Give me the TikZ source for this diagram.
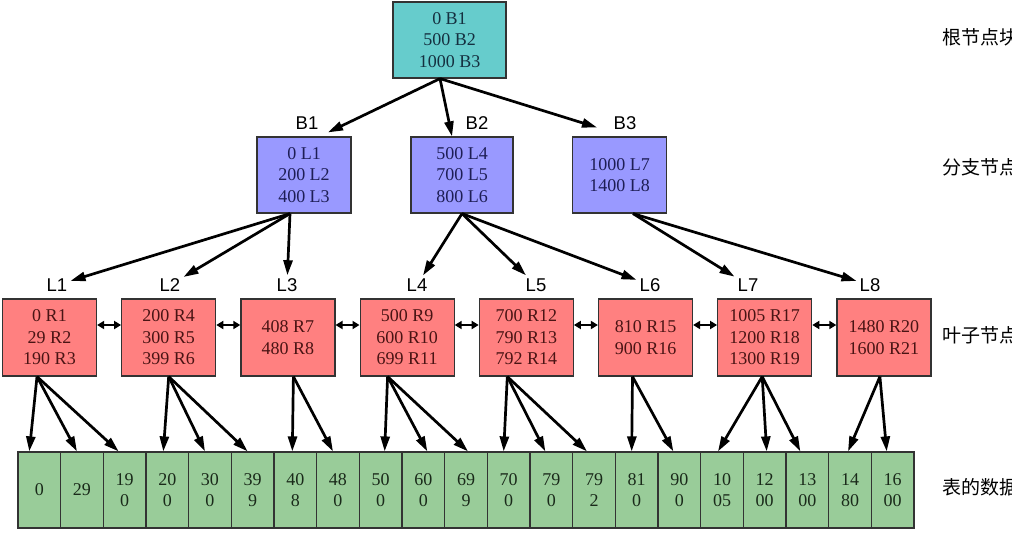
\documentclass[tikz,border=0pt]{standalone}
\usepackage{fontspec}
\setmainfont{Liberation Serif}
\newfontfamily\labfont{Liberation Sans}
\newfontfamily\cjk{Noto Sans CJK SC}
\usetikzlibrary{arrows.meta}
\definecolor{rootFill}{HTML}{66CCCC}
\definecolor{branchFill}{HTML}{9999FF}
\definecolor{leafFill}{HTML}{FF8080}
\definecolor{cellFill}{HTML}{99CC99}
\definecolor{boxLine}{HTML}{333333}
\definecolor{rootText}{HTML}{153040}
\definecolor{branchText}{HTML}{1E1E55}
\definecolor{leafText}{HTML}{4A1414}
\definecolor{cellText}{HTML}{1A2A1A}
\newcommand{\nodeFont}{\fontsize{18}{21.5}\selectfont}
\tikzstyle{rootBox} = [rectangle, draw=boxLine, line width=1.2pt, fill=rootFill, text=rootText, align=center, minimum width=113pt, minimum height=76pt, font=\nodeFont]
\tikzstyle{branchBox} = [rectangle, draw=boxLine, line width=1.2pt, fill=branchFill, text=branchText, align=center, minimum width=94pt, minimum height=76pt, font=\nodeFont]
\tikzstyle{leafBox} = [rectangle, draw=boxLine, line width=1.2pt, fill=leafFill, text=leafText, align=center, minimum width=94pt, minimum height=77pt, font=\nodeFont, node distance=119.2pt]
\tikzstyle{cellBox} = [rectangle, draw=boxLine, line width=1.2pt, fill=cellFill, text=cellText, align=center, minimum width=42.67pt, minimum height=76pt, font=\nodeFont, node distance=42.67pt]
\tikzstyle{tag} = [font=\labfont\fontsize{18.5}{18.5}\selectfont, inner sep=3pt]
\tikzstyle{note} = [anchor=west, font=\cjk\fontsize{19}{19}\selectfont, inner sep=0pt]
\tikzstyle{arrowLine} = [-{Triangle[length=15pt,width=9pt]}, line width=2.7pt]
\tikzstyle{linkLine} = [{Triangle[length=7pt,width=8pt]}-{Triangle[length=7pt,width=8pt]}, line width=2.7pt]

\begin{document}
\begin{tikzpicture}[x=1pt,y=-1pt]
		\useasboundingbox [fill=white] (0,0) rectangle (1012,557);
		% root and branches
		\node [rootBox](root) at (449.5,40){0 B1\\500 B2\\1000 B3};
		\node [branchBox](b1) at (304,175){0 L1\\200 L2\\400 L3};
		\node [branchBox,minimum width=102pt](b2) at (462,175){500 L4\\700 L5\\800 L6};
		\node [branchBox](b3) at (619.5,175){1000 L7\\1400 L8};
		\node [tag](lbB1) at (307,123){B1};
		\node [tag](lbB2) at (477,123){B2};
		\node [tag](lbB3) at (625,123){B3};
		% leaves
		\node [leafBox](l1) at (49.5,337.5){0 R1\\29 R2\\190 R3};
		\node [leafBox,right of=l1](l2){200 R4\\300 R5\\399 R6};
		\node [leafBox,right of=l2](l3){408 R7\\480 R8};
		\node [leafBox,right of=l3](l4){500 R9\\600 R10\\699 R11};
		\node [leafBox,right of=l4](l5){700 R12\\790 R13\\792 R14};
		\node [leafBox,right of=l5](l6){810 R15\\900 R16};
		\node [leafBox,right of=l6](l7){1005 R17\\1200 R18\\1300 R19};
		\node [leafBox,right of=l7](l8){1480 R20\\1600 R21};
		\node [tag](lbL1) at (57,285){L1};
		\node [tag](lbL2) at (170,285){L2};
		\node [tag](lbL3) at (287,285){L3};
		\node [tag](lbL4) at (417,285){L4};
		\node [tag](lbL5) at (536,285){L5};
		\node [tag](lbL6) at (650,285){L6};
		\node [tag](lbL7) at (748,285){L7};
		\node [tag](lbL8) at (870,285){L8};
		% table rows
		\node [cellBox](c1) at (39.3,490){0};
		\node [cellBox,right of=c1](c2){29};
		\node [cellBox,right of=c2](c3){19\\0};
		\node [cellBox,right of=c3](c4){20\\0};
		\node [cellBox,right of=c4](c5){30\\0};
		\node [cellBox,right of=c5](c6){39\\9};
		\node [cellBox,right of=c6](c7){40\\8};
		\node [cellBox,right of=c7](c8){48\\0};
		\node [cellBox,right of=c8](c9){50\\0};
		\node [cellBox,right of=c9](c10){60\\0};
		\node [cellBox,right of=c10](c11){69\\9};
		\node [cellBox,right of=c11](c12){70\\0};
		\node [cellBox,right of=c12](c13){79\\0};
		\node [cellBox,right of=c13](c14){79\\2};
		\node [cellBox,right of=c14](c15){81\\0};
		\node [cellBox,right of=c15](c16){90\\0};
		\node [cellBox,right of=c16](c17){10\\05};
		\node [cellBox,right of=c17](c18){12\\00};
		\node [cellBox,right of=c18](c19){13\\00};
		\node [cellBox,right of=c19](c20){14\\80};
		\node [cellBox,right of=c20](c21){16\\00};
		% side notes
		\node [note](n1) at (942,37){根节点块};
		\node [note](n2) at (942,167){分支节点};
		\node [note](n3) at (942,335){叶子节点};
		\node [note](n4) at (942,487){表的数据};
		% arrows
		\draw [arrowLine] ([xshift=-9.5pt]root.south) -- ([xshift=24pt,yshift=4pt]b1.north);
		\draw [arrowLine] ([xshift=-9.5pt]root.south) -- ([xshift=-10pt]b2.north);
		\draw [arrowLine] ([xshift=-9.5pt]root.south) -- ([xshift=-22.5pt,yshift=9pt]b3.north);
		\draw [arrowLine] ([xshift=-14pt]b1.south) -- (lbL1);
		\draw [arrowLine] ([xshift=-14pt]b1.south) -- (lbL2);
		\draw [arrowLine] ([xshift=-14pt]b1.south) -- (lbL3);
		\draw [arrowLine] (b2.south) -- (lbL4);
		\draw [arrowLine] (b2.south) -- (lbL5);
		\draw [arrowLine] (b2.south) -- (lbL6);
		\draw [arrowLine] ([xshift=13.5pt]b3.south) -- (lbL7);
		\draw [arrowLine] ([xshift=13.5pt]b3.south) -- (lbL8);
		\draw [linkLine] ([yshift=12.5pt]l1.east) -- ([yshift=12.5pt]l2.west);
		\draw [linkLine] ([yshift=12.5pt]l2.east) -- ([yshift=12.5pt]l3.west);
		\draw [linkLine] ([yshift=12.5pt]l3.east) -- ([yshift=12.5pt]l4.west);
		\draw [linkLine] ([yshift=12.5pt]l4.east) -- ([yshift=12.5pt]l5.west);
		\draw [linkLine] ([yshift=12.5pt]l5.east) -- ([yshift=12.5pt]l6.west);
		\draw [linkLine] ([yshift=12.5pt]l6.east) -- ([yshift=12.5pt]l7.west);
		\draw [linkLine] ([yshift=12.5pt]l7.east) -- ([yshift=12.5pt]l8.west);
		\draw [arrowLine] ([xshift=-12.5pt]l1.south) -- ([xshift=-10pt]c1.north);
		\draw [arrowLine] ([xshift=-12.5pt]l1.south) -- ([xshift=-5pt]c2.north);
		\draw [arrowLine] ([xshift=-12.5pt]l1.south) -- ([xshift=-6pt]c3.north);
		\draw [arrowLine] (l2.south) -- ([xshift=-4pt]c4.north);
		\draw [arrowLine] (l2.south) -- ([xshift=-5pt]c5.north);
		\draw [arrowLine] (l2.south) -- ([xshift=-5pt]c6.north);
		\draw [arrowLine] ([xshift=5.5pt]l3.south) -- ([xshift=-3pt]c7.north);
		\draw [arrowLine] ([xshift=5.5pt]l3.south) -- ([xshift=-5pt]c8.north);
		\draw [arrowLine] ([xshift=-19.5pt]l4.south) -- ([xshift=4pt]c9.north);
		\draw [arrowLine] ([xshift=-19.5pt]l4.south) -- ([xshift=4pt]c10.north);
		\draw [arrowLine] ([xshift=-19.5pt]l4.south) -- ([xshift=2pt]c11.north);
		\draw [arrowLine] ([xshift=-19pt]l5.south) -- ([xshift=-5pt]c12.north);
		\draw [arrowLine] ([xshift=-19pt]l5.south) -- ([xshift=-6pt]c13.north);
		\draw [arrowLine] ([xshift=-19pt]l5.south) -- ([xshift=-7pt]c14.north);
		\draw [arrowLine] ([xshift=-13pt]l6.south) -- ([xshift=-5pt]c15.north);
		\draw [arrowLine] ([xshift=-13pt]l6.south) -- ([xshift=-6pt]c16.north);
		\draw [arrowLine] ([xshift=-2.5pt]l7.south) -- ([xshift=-4pt]c17.north);
		\draw [arrowLine] ([xshift=-2.5pt]l7.south) -- ([xshift=2pt]c18.north);
		\draw [arrowLine] ([xshift=-2.5pt]l7.south) -- ([xshift=-7pt]c19.north);
		\draw [arrowLine] ([xshift=-4pt]l8.south) -- ([xshift=-2pt]c20.north);
		\draw [arrowLine] ([xshift=-4pt]l8.south) -- ([xshift=-6pt]c21.north);
		
		\end{tikzpicture}
\end{document}
